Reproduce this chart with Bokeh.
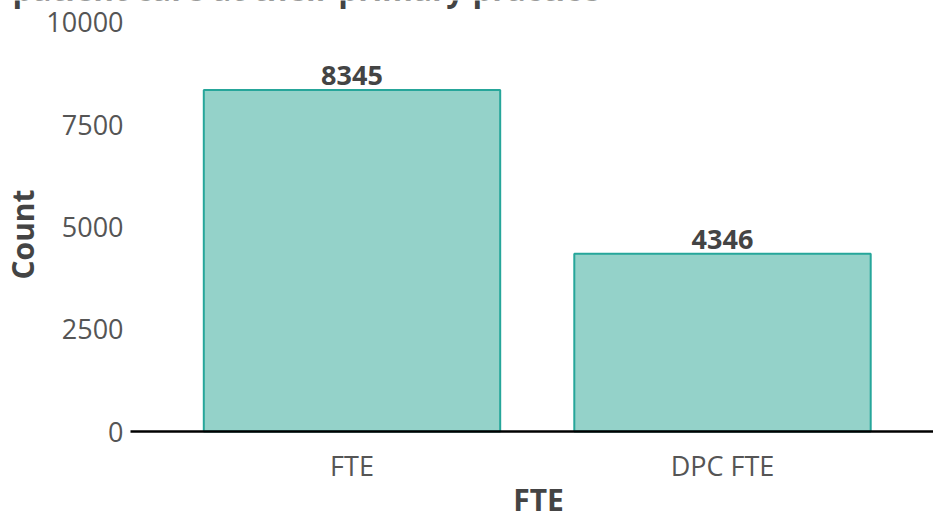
from bokeh.plotting import figure
from bokeh.models import Range1d, FixedTicker, ColumnDataSource, Label
from bokeh.core.properties import value
from bokeh.embed import file_html
from bokeh.resources import INLINE

categories = ["FTE", "DPC FTE"]
counts = [8345, 4346]
y_ticks = [0, 2500, 5000, 7500, 10000]
title_text = "patient care at their primary practice"
x_title = "FTE"
y_title = "Count"

FONT = "Open Sans"
positions = list(range(len(categories)))
x_start, x_end = -0.9487, 1.5695
y_start, y_end = -1979.5, 10533
y_axis_at = -0.5978

src = ColumnDataSource(dict(x=positions, count=counts, label=[str(c) for c in counts]))

p = figure(width=933, height=512, output_backend="svg", toolbar_location=None,
           x_range=Range1d(x_start, x_end), y_range=Range1d(y_start, y_end),
           min_border_left=0, min_border_right=0, min_border_top=0, min_border_bottom=0,
           margin=(0, 0, 0, 0))
p.outline_line_color = None
p.grid.visible = False
p.background_fill_color = "white"
p.border_fill_color = "white"

p.vbar(x="x", top="count", width=0.8, bottom=0, source=src,
       fill_color="#94d2c9", line_color="#26a69a", line_width=2)

p.text(x="x", y="count", text="label", source=src, text_align="center",
       text_baseline="bottom", y_offset=-5, text_font=value(FONT),
       text_font_style="bold", text_font_size="27px", text_color="#444444")

xa = p.xaxis[0]
xa.fixed_location = 0
xa.bounds = (y_axis_at, x_end)
xa.ticker = FixedTicker(ticks=positions)
xa.major_label_overrides = {i: c for i, c in zip(positions, categories)}
xa.axis_line_color = "black"
xa.axis_line_width = 2.5
xa.major_tick_line_color = None
xa.minor_tick_line_color = None
xa.major_tick_out = 0
xa.major_tick_in = 0
xa.major_label_standoff = 15
xa.major_label_text_font = FONT
xa.major_label_text_font_size = "27px"
xa.major_label_text_color = "#555555"

ya = p.yaxis[0]
ya.fixed_location = y_axis_at
ya.bounds = (-904, y_end)
ya.ticker = FixedTicker(ticks=y_ticks)
ya.axis_line_color = None
ya.major_tick_line_color = None
ya.minor_tick_line_color = None
ya.major_tick_out = 0
ya.major_tick_in = 0
ya.major_label_standoff = 7
ya.major_label_text_font = FONT
ya.major_label_text_font_size = "27px"
ya.major_label_text_color = "#555555"
ya.axis_label = y_title
ya.axis_label_text_font = FONT
ya.axis_label_text_font_style = "bold"
ya.axis_label_text_font_size = "30px"
ya.axis_label_text_color = "#444444"
ya.axis_label_standoff = 0

# Label positions are in screen pixels relative to the plot frame
xlab = Label(x=538, y=13, x_units="screen", y_units="screen", text=x_title,
             text_font=FONT, text_font_style="bold", text_font_size="30px",
             text_color="#444444", text_align="center", text_baseline="alphabetic")
p.add_layout(xlab)

title = Label(x=12, y=524, x_units="screen", y_units="screen", text=title_text,
              text_font=FONT, text_font_style="bold", text_font_size="31.5px",
              text_color="#444444", text_baseline="alphabetic")
p.add_layout(title)

open("out.html", "w").write(file_html(p, INLINE))
